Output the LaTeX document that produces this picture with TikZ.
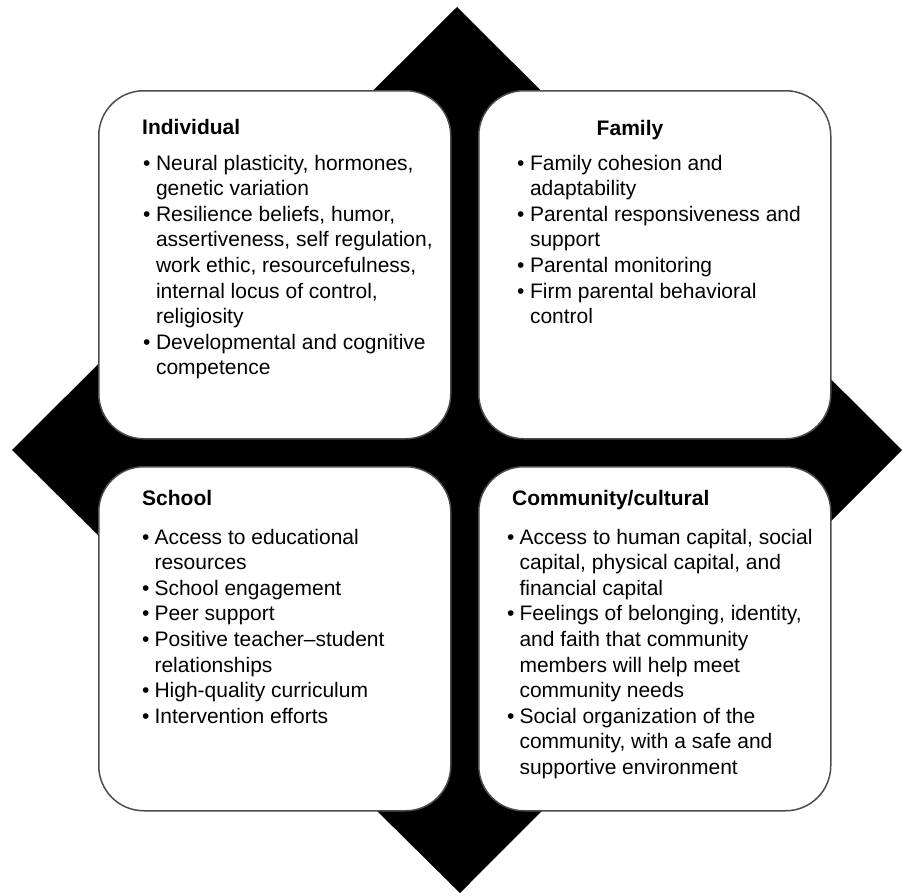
\documentclass[tikz,border=0pt]{standalone}
\usepackage{fontspec}
\setmainfont{Liberation Sans}
\begin{document}
\begin{tikzpicture}[x=1pt,y=-1pt,
  panel/.style={draw=black!70, line width=1.5pt, fill=white, rounded corners=45pt,
                anchor=north west, minimum width=352pt, inner sep=0pt},
  heading/.style={font=\fontsize{21}{25.6}\selectfont\bfseries, inner sep=0pt},
  points/.style={font=\fontsize{21}{25.6}\selectfont, inner sep=0pt, anchor=base west}]
\useasboundingbox (0,0) rectangle (902,895);

% black diamond behind the four panels
\fill[black] (457,7) -- (902,450) -- (460,893) -- (12,450) -- cycle;

% the four rounded panels
\node[panel, minimum height=348pt] (indiv) at (98,90) {};
\node[panel, minimum height=348pt] (family) at (478,90) {};
\node[panel, minimum height=344pt] (school) at (98,466) {};
\node[panel, minimum height=344pt] (comm) at (478,466) {};

% headings
\node[heading, anchor=base west] (indivtitle) at (142,134) {Individual};
\node[heading, anchor=base] (familytitle) at (630,135) {Family};
\node[heading, anchor=base west] (schooltitle) at (142,505) {School};
\node[heading, anchor=base west] (commtitle) at (512,505) {Community/cultural};

% bullet lists
\node[points] (indivlist) at (143,170) {\begin{tabular}[t]{@{}l@{\hspace{5.5pt}}l@{}}
\textbullet & Neural plasticity, hormones,\\
 & genetic variation\\
\textbullet & Resilience beliefs, humor,\\
 & assertiveness, self regulation,\\
 & work ethic, resourcefulness,\\
 & internal locus of control,\\
 & religiosity\\
\textbullet & Developmental and cognitive\\
 & competence
\end{tabular}};

\node[points] (familylist) at (517,170) {\begin{tabular}[t]{@{}l@{\hspace{5.5pt}}l@{}}
\textbullet & Family cohesion and\\
 & adaptability\\
\textbullet & Parental responsiveness and\\
 & support\\
\textbullet & Parental monitoring\\
\textbullet & Firm parental behavioral\\
 & control
\end{tabular}};

\node[points] (schoollist) at (142,544) {\begin{tabular}[t]{@{}l@{\hspace{5pt}}l@{}}
\textbullet & Access to educational\\
 & resources\\
\textbullet & School engagement\\
\textbullet & Peer support\\
\textbullet & Positive teacher–student\\
 & relationships\\
\textbullet & High-quality curriculum\\
\textbullet & Intervention efforts
\end{tabular}};

\node[points] (commlist) at (507,544) {\begin{tabular}[t]{@{}l@{\hspace{5pt}}l@{}}
\textbullet & Access to human capital, social\\
 & capital, physical capital, and\\
 & financial capital\\
\textbullet & Feelings of belonging, identity,\\
 & and faith that community\\
 & members will help meet\\
 & community needs\\
\textbullet & Social organization of the\\
 & community, with a safe and\\
 & supportive environment
\end{tabular}};
\end{tikzpicture}
\end{document}
